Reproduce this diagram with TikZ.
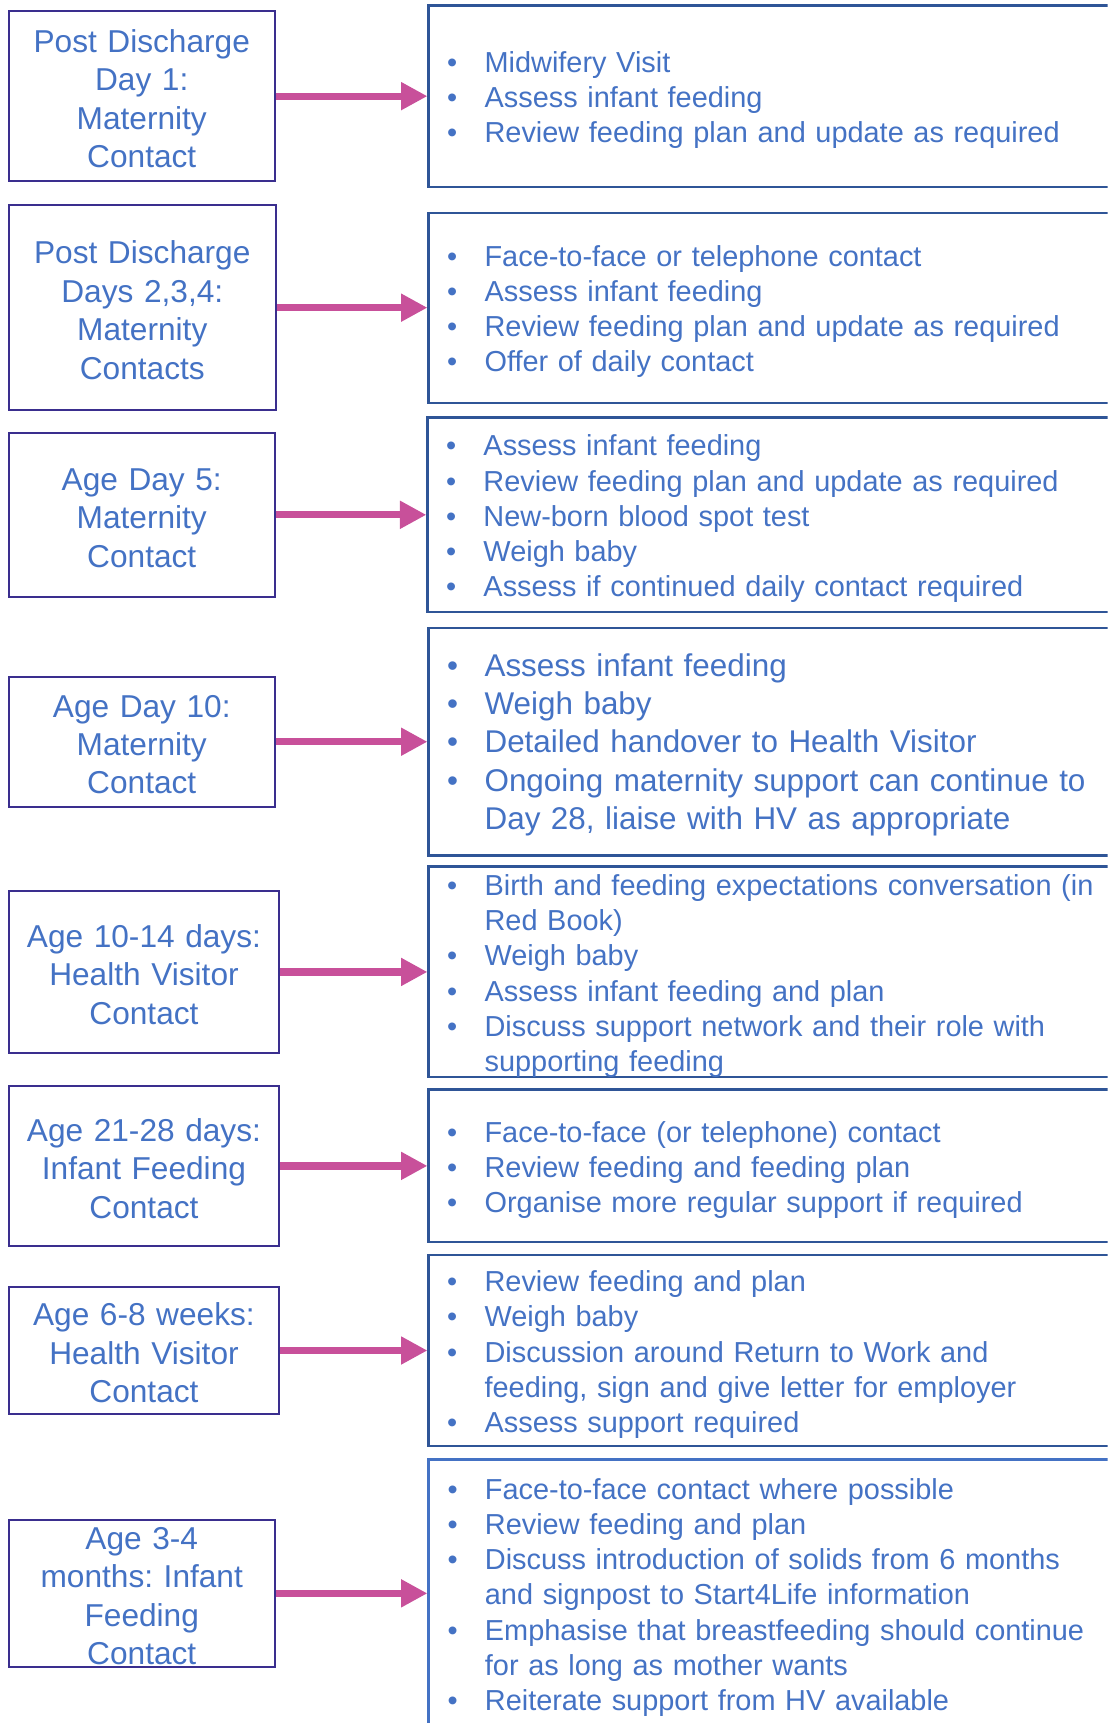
\documentclass[tikz,border=0pt]{standalone}
\usepackage{fontspec}
\setmainfont{Liberation Sans}
\usetikzlibrary{arrows.meta}
\definecolor{txtblue}{RGB}{68,114,196}
\definecolor{stageline}{RGB}{58,46,142}
\definecolor{taskline}{RGB}{47,85,151}
\definecolor{arrowpink}{RGB}{200,80,154}
\newcommand{\bul}{\makebox[17pt][l]{\textbullet}}
\newcommand{\cont}{\hspace*{17pt}}
\frenchspacing

\begin{document}
\begin{tikzpicture}[x=0.5pt,y=-0.5pt,
  stage/.style={draw=stageline,line width=0.9pt,text=txtblue,align=center,text width=118pt,inner sep=0pt,text height=12.7pt,font=\fontsize{14.4pt}{17.5pt}\selectfont},
  task/.style={draw=taskline,line width=1pt,text=txtblue,anchor=west,align=left,text width=303.5pt,inner xsep=8.5pt,inner ysep=0pt,text height=13.2pt,minimum width=320.5pt,font=\fontsize{13.15pt}{16pt}\selectfont},
  link/.style={-{Triangle[length=12pt,width=12pt]},color=arrowpink,line width=3.3pt}]
\useasboundingbox (0,0) rectangle (1008,1568);
\clip (0,0) rectangle (1008,1568);

\node[stage,minimum width=121pt,minimum height=77.5pt] (L1) at (129,87.5) {Post Discharge\\Day 1:\\Maternity\\Contact};
\node[stage,minimum width=121.5pt,minimum height=93pt] (L2) at (129.5,280) {Post Discharge\\Days 2,3,4:\\Maternity\\Contacts};
\node[stage,minimum width=121pt,minimum height=74.5pt] (L3) at (129,468.5) {Age Day 5:\\Maternity\\Contact};
\node[stage,minimum width=121pt,minimum height=59pt] (L4) at (129,675) {Age Day 10:\\Maternity\\Contact};
\node[stage,minimum width=123pt,minimum height=73.5pt] (L5) at (131,884.5) {Age 10-14 days:\\Health Visitor\\Contact};
\node[stage,minimum width=123pt,minimum height=73pt] (L6) at (131,1061) {Age 21-28 days:\\Infant Feeding\\Contact};
\node[stage,minimum width=123pt,minimum height=58pt] (L7) at (131,1229) {Age 6-8 weeks:\\Health Visitor\\Contact};
\node[stage,minimum width=121pt,minimum height=67pt] (L8) at (129,1450) {Age 3-4\\months: Infant\\Feeding\\Contact};

\node[task,minimum height=82.5pt] (R1) at (389,87.5) {\bul Midwifery Visit\\
  \bul Assess infant feeding\\
  \bul Review feeding plan and update as required};
\node[task,minimum height=86.5pt] (R2) at (389,280) {\bul Face-to-face or telephone contact\\
  \bul Assess infant feeding\\
  \bul Review feeding plan and update as required\\
  \bul Offer of daily contact};
\node[task,minimum height=88.5pt] (R3) at (388,468.5) {\bul Assess infant feeding\\
  \bul Review feeding plan and update as required\\
  \bul New-born blood spot test\\
  \bul Weigh baby\\
  \bul Assess if continued daily contact required};
\node[task,minimum height=103.5pt,font=\fontsize{14.3pt}{17.5pt}\selectfont] (R4) at (389,675) {\bul Assess infant feeding\\
  \bul Weigh baby\\
  \bul Detailed handover to Health Visitor\\
  \bul Ongoing maternity support can continue to\\
  \cont Day 28, liaise with HV as appropriate};
\node[task,minimum height=95.5pt] (R5) at (389,884.5) {\bul Birth and feeding expectations conversation (in\\
  \cont Red Book)\\
  \bul Weigh baby\\
  \bul Assess infant feeding and plan\\
  \bul Discuss support network and their role with\\
  \cont supporting feeding};
\node[task,minimum height=69.5pt] (R6) at (389,1061) {\bul Face-to-face (or telephone) contact\\
  \bul Review feeding and feeding plan\\
  \bul Organise more regular support if required};
\node[task,minimum height=87pt] (R7) at (389,1229) {\bul Review feeding and plan\\
  \bul Weigh baby\\
  \bul Discussion around Return to Work and\\
  \cont feeding, sign and give letter for employer\\
  \bul Assess support required};
\node[task,draw=txtblue,line width=1.3pt,minimum height=122pt] (R8) at (389,1450) {\bul Face-to-face contact where possible\\
  \bul Review feeding and plan\\
  \bul Discuss introduction of solids from 6 months\\
  \cont and signpost to Start4Life information\\
  \bul Emphasise that breastfeeding should continue\\
  \cont for as long as mother wants\\
  \bul Reiterate support from HV available};

\path[link] (L1) edge [] node[]{} (R1);
\path[link] (L2) edge [] node[]{} (R2);
\path[link] (L3) edge [] node[]{} (R3);
\path[link] (L4) edge [] node[]{} (R4);
\path[link] (L5) edge [] node[]{} (R5);
\path[link] (L6) edge [] node[]{} (R6);
\path[link] (L7) edge [] node[]{} (R7);
\path[link] (L8) edge [] node[]{} (R8);
\end{tikzpicture}
\end{document}
